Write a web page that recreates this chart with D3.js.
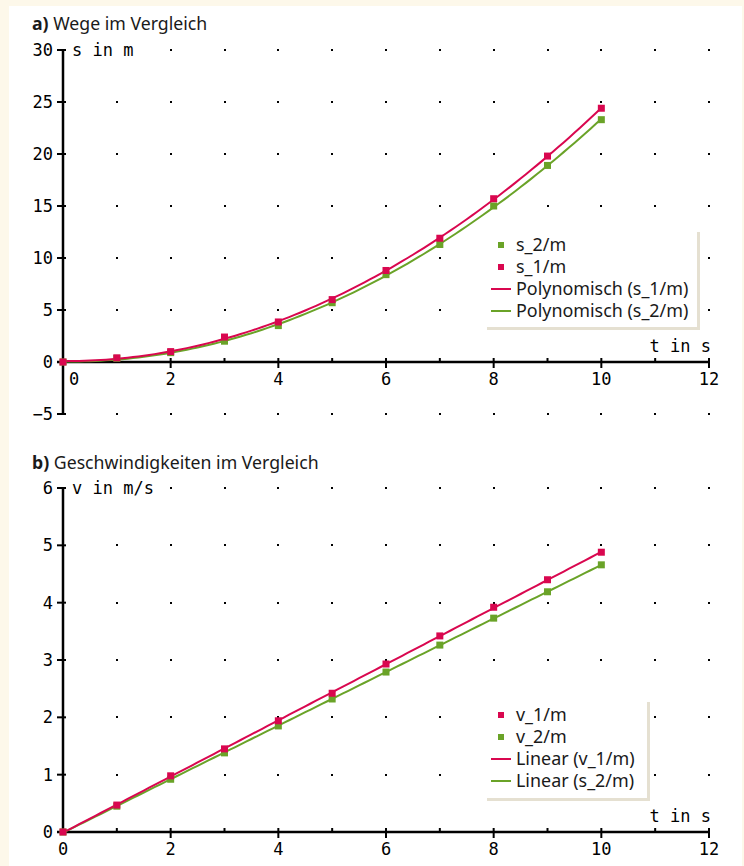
<!DOCTYPE html>
<html><head><meta charset="utf-8">
<script src="https://cdn.jsdelivr.net/npm/d3@7"></script>
<style>
html,body{margin:0;padding:0;background:#fdf8ea;}
svg{display:block;}
.tick{font-family:"DejaVu Sans Mono",monospace;font-size:17px;fill:#000;}
.leg{font-family:"Noto Sans",sans-serif;font-size:17.9px;fill:#1a1a1a;}
.ttl{font-family:"Noto Sans",sans-serif;font-size:17.7px;fill:#1a1a1a;}
</style></head>
<body>
<script>
// ---- data ----
const t = [0,1,2,3,4,5,6,7,8,9,10];
const s1 = [0,0.4,1.0,2.4,3.85,6.0,8.8,11.9,15.7,19.8,24.4];
const s2 = [0,0.35,0.9,2.0,3.5,5.7,8.4,11.3,15.0,18.9,23.3];
const v1 = [0,0.47,0.98,1.45,1.94,2.42,2.93,3.42,3.92,4.40,4.88];
const v2 = [0,0.45,0.92,1.38,1.85,2.32,2.79,3.26,3.73,4.19,4.66];
const xTicks = [0,2,4,6,8,10,12];
const xMinor = [1,3,5,7,9,11];
const yTicksA = [-5,0,5,10,15,20,25,30];
const yTicksB = [0,1,2,3,4,5,6];
const legendA = ["s_2/m","s_1/m","Polynomisch (s_1/m)","Polynomisch (s_2/m)"];
const legendB = ["v_1/m","v_2/m","Linear (v_1/m)","Linear (s_2/m)"];
const titleA = ["a)"," Wege im Vergleich"];
const titleB = ["b)"," Geschwindigkeiten im Vergleich"];
const RED = "#d9074f", GREEN = "#6aa328";

// least squares polynomial fit
function polyfit(xs, ys, deg){
  const n = deg+1;
  const A = Array.from({length:n},()=>Array(n+1).fill(0));
  for(let i=0;i<xs.length;i++){
    for(let r=0;r<n;r++){
      for(let c=0;c<n;c++) A[r][c]+=Math.pow(xs[i],r+c);
      A[r][n]+=ys[i]*Math.pow(xs[i],r);
    }
  }
  for(let i=0;i<n;i++){
    let p=i; for(let k=i+1;k<n;k++) if(Math.abs(A[k][i])>Math.abs(A[p][i])) p=k;
    [A[i],A[p]]=[A[p],A[i]];
    for(let k=0;k<n;k++){ if(k===i) continue; const f=A[k][i]/A[i][i]; for(let c=i;c<=n;c++) A[k][c]-=f*A[i][c]; }
  }
  const coef=A.map((row,i)=>row[n]/row[i]);
  return x=>coef.reduce((s,c,i)=>s+c*Math.pow(x,i),0);
}

const W=744,H=866;
const svg=d3.select("body").append("svg").attr("width",W).attr("height",H);
svg.append("rect").attr("x",9).attr("y",6).attr("width",733).attr("height",H-6).attr("fill","#fff");

const x=d3.scaleLinear().domain([0,12]).range([63,709]);

function panel(cfg){
  const y=d3.scaleLinear().domain(cfg.yDomain).range(cfg.yRange);
  const g=svg.append("g");
  // title
  const tt=g.append("text").attr("class","ttl").attr("x",32).attr("y",cfg.titleY);
  tt.append("tspan").attr("font-weight","bold").text(cfg.title[0]);
  tt.append("tspan").text(cfg.title[1]);
  // dot grid
  const gridRows=cfg.yTicks.filter(v=>v!==0);
  const dots=[];
  gridRows.forEach(r=>{ for(let i=1;i<=12;i++){ if(!(r===cfg.yDomain[1] && i===1)) dots.push([i,r]); } });
  g.selectAll("rect.dot").data(dots).join("rect").attr("class","dot")
    .attr("x",d=>Math.round(x(d[0]))-1).attr("y",d=>Math.round(y(d[1]))-1)
    .attr("width",2).attr("height",2).attr("fill","#000");
  // axes
  g.append("line").attr("x1",x(0)).attr("x2",x(0)).attr("y1",y(cfg.yDomain[1])).attr("y2",y(cfg.yDomain[0]))
    .attr("stroke","#000").attr("stroke-width",2.5);
  g.append("line").attr("x1",x(0)-6).attr("x2",x(12)).attr("y1",y(0)).attr("y2",y(0))
    .attr("stroke","#000").attr("stroke-width",2.5);
  // y ticks
  g.selectAll("line.yt").data(cfg.yTicks).join("line").attr("class","yt")
    .attr("x1",x(0)-6).attr("x2",x(0)+3).attr("y1",d=>y(d)).attr("y2",d=>y(d)).attr("stroke","#000").attr("stroke-width",2);
  g.selectAll("text.yl").data(cfg.yTicks).join("text").attr("class","tick yl")
    .attr("x",53).attr("y",d=>y(d)+6).attr("text-anchor","end").text(d=>d<0?"\u2212"+(-d):d);
  // x ticks
  g.selectAll("line.xt").data(xTicks.filter(d=>d>0)).join("line").attr("class","xt")
    .attr("x1",d=>x(d)).attr("x2",d=>x(d)).attr("y1",y(0)-4).attr("y2",y(0)+6).attr("stroke","#000").attr("stroke-width",2);
  g.selectAll("line.xm").data(xMinor).join("line").attr("class","xm")
    .attr("x1",d=>x(d)).attr("x2",d=>x(d)).attr("y1",y(0)-4).attr("y2",y(0)).attr("stroke","#000").attr("stroke-width",2);
  g.selectAll("text.xl").data(xTicks).join("text").attr("class","tick xl")
    .attr("x",d=>x(d)+(d===0?cfg.zeroShift:0)).attr("y",y(0)+23).attr("text-anchor","middle").text(d=>d);
  // axis labels
  g.append("text").attr("class","tick").attr("x",72).attr("y",y(cfg.yDomain[1])+6).text(cfg.yLabel);
  g.append("text").attr("class","tick").attr("x",711).attr("y",y(0)-10).attr("text-anchor","end").text("t in s");
  // trend lines
  const f1=polyfit(t,cfg.d1,cfg.deg), f2=polyfit(t,cfg.d2,cfg.deg);
  const ts=d3.range(0,10.001,0.1);
  const line=d3.line().x(d=>x(d[0])).y(d=>y(d[1]));
  g.append("path").attr("d",line(ts.map(v=>[v,Math.max(0,f2(v))]))).attr("fill","none").attr("stroke",GREEN).attr("stroke-width",2);
  g.append("path").attr("d",line(ts.map(v=>[v,Math.max(0,f1(v))]))).attr("fill","none").attr("stroke",RED).attr("stroke-width",2);
  // markers
  g.selectAll("rect.m2").data(t).join("rect").attr("class","m2")
    .attr("x",(d)=>x(d)-3.5).attr("y",(d,i)=>y(cfg.d2[i])-3.5).attr("width",7).attr("height",7).attr("fill",GREEN);
  g.selectAll("rect.m1").data(t).join("rect").attr("class","m1")
    .attr("x",(d)=>x(d)-3.5).attr("y",(d,i)=>y(cfg.d1[i])-3.5).attr("width",7).attr("height",7).attr("fill",RED);
  // legend
  const L=cfg.leg;
  const lg=g.append("g");
  lg.append("rect").attr("x",L.x).attr("y",L.y).attr("width",L.w+3).attr("height",L.h+3).attr("fill","#e5e0d1");
  lg.append("rect").attr("x",L.x).attr("y",L.y).attr("width",L.w).attr("height",L.h).attr("fill","#fff");
  cfg.legend.forEach((txt,i)=>{
    const cy=L.y+13+i*22;
    const col=cfg.legColors[i];
    if(i<2) lg.append("rect").attr("x",L.x+11).attr("y",cy-3).attr("width",6).attr("height",6).attr("fill",col);
    else lg.append("line").attr("x1",L.x+4).attr("x2",L.x+24).attr("y1",cy).attr("y2",cy).attr("stroke",col).attr("stroke-width",2);
    lg.append("text").attr("class","leg").attr("x",L.x+29).attr("y",cy+6).text(txt);
  });
}

panel({yDomain:[-5,30],yRange:[414,50],yTicks:yTicksA,title:titleA,titleY:30,yLabel:"s in m",
  d1:s1,d2:s2,deg:2,zeroShift:11,legend:legendA,legColors:[GREEN,RED,RED,GREEN],
  leg:{x:487,y:232,w:210,h:95}});
panel({yDomain:[0,6],yRange:[832,488],yTicks:yTicksB,title:titleB,titleY:469,yLabel:"v in m/s",
  d1:v1,d2:v2,deg:1,zeroShift:0,legend:legendB,legColors:[RED,GREEN,RED,GREEN],
  leg:{x:487,y:702,w:160,h:96}});
</script>
</body></html>
